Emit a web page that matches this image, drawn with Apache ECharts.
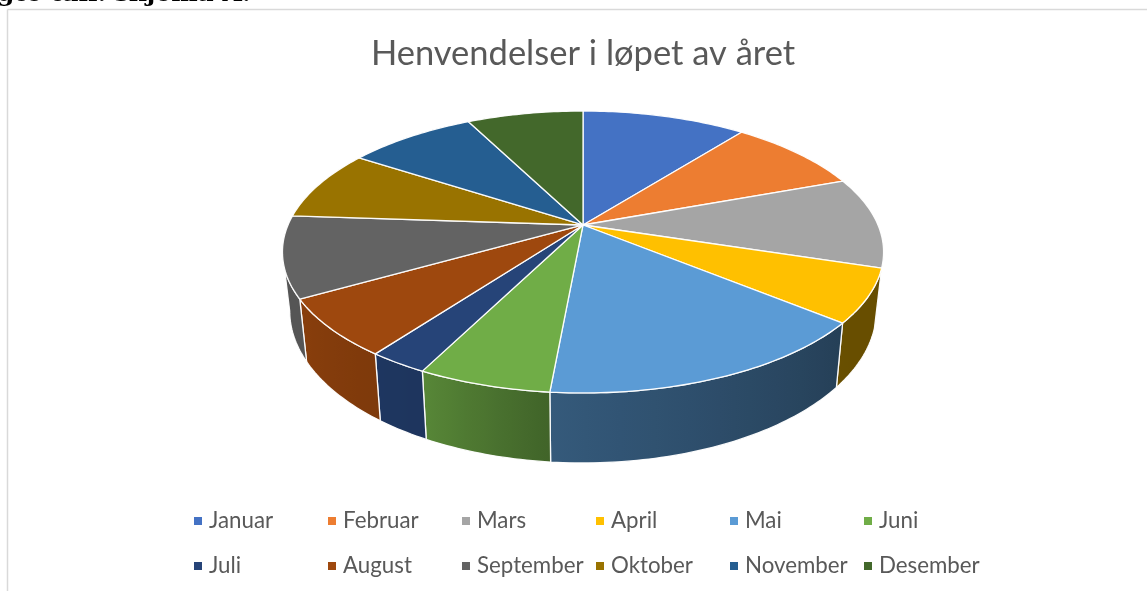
<!DOCTYPE html>
<html><head><meta charset="utf-8">
<script src="https://cdn.jsdelivr.net/npm/echarts@6/dist/echarts.min.js"></script>
<style>html,body{margin:0;padding:0;background:#fff;overflow:hidden}#c{width:1147px;height:591px;}</style>
</head><body><div id="c"></div>
<script>
// ---- data ----
const chartTitle = 'Henvendelser i løpet av året';
const months = ['Januar','Februar','Mars','April','Mai','Juni','Juli','August','September','Oktober','November','Desember'];
const values = [106, 88, 104, 61, 155, 60, 27, 66, 93, 81, 83, 75];
const colors = ['#4472C4','#ED7D31','#A5A5A5','#FFC000','#5B9BD5','#70AD47','#264478','#9E480E','#636363','#997300','#255E91','#43682B'];
const headerText = 'gte tall. skjema A.';

// ---- 3D pie geometry (projection of a tilted cylinder) ----
const total = values.reduce((a, b) => a + b, 0);
const startAngles = [];
(function () { let acc = 0; values.forEach(v => { startAngles.push(acc / total * 360); acc += v; }); })();

function geom(api) {
  const W = api.getWidth(), H = api.getHeight();
  return { cx: W * 0.5083, cy: H * 0.3807, rx: 295, ry: 135.8, p: 0.1915, h: 56.6, s: 0.976 };
}
function topPt(G, th) {
  const r = th * Math.PI / 180, u = Math.sin(r), v = Math.cos(r), w = 1 + G.p * v;
  return [G.cx + G.rx * u / w, G.cy - G.ry * v / w];
}
function botPt(G, th) {
  const r = th * Math.PI / 180, u = Math.sin(r), v = Math.cos(r), w = 1 + G.p * v;
  return [G.cx + G.s * G.rx * u / w, G.cy - G.ry * v / w + G.h / w];
}
const shadeStops = [[95, 0.40], [130, 0.41], [186, 0.58], [207, 0.78], [217, 0.80], [240, 0.86], [265, 0.86]];
function shadeFactor(th) {
  if (th <= shadeStops[0][0]) return shadeStops[0][1];
  for (let i = 1; i < shadeStops.length; i++) {
    if (th <= shadeStops[i][0]) {
      const [a0, f0] = shadeStops[i - 1], [a1, f1] = shadeStops[i];
      return f0 + (f1 - f0) * (th - a0) / (a1 - a0);
    }
  }
  return shadeStops[shadeStops.length - 1][1];
}
function shade(hex, f) {
  const n = parseInt(hex.slice(1), 16);
  const r = Math.round(((n >> 16) & 255) * f), g = Math.round(((n >> 8) & 255) * f), b = Math.round((n & 255) * f);
  return 'rgb(' + r + ',' + g + ',' + b + ')';
}
const SIDE_MIN = 101.04, SIDE_MAX = 258.96;

function makeRender(i) {
  return function (params, api) {
    const G = geom(api);
    const a0 = startAngles[i], a1 = a0 + api.value(0) / total * 360;
    const children = [];
    // top face
    const pts = [[G.cx, G.cy]];
    const n = Math.max(2, Math.ceil(a1 - a0));
    for (let k = 0; k <= n; k++) pts.push(topPt(G, a0 + (a1 - a0) * k / n));
    children.push({
      type: 'polygon', z2: 100 + i,
      shape: { points: pts },
      style: { fill: colors[i], stroke: 'rgba(255,255,255,0.95)', lineWidth: 1.3, lineJoin: 'round' }
    });
    // side face (front visible part)
    const s0 = Math.max(a0, SIDE_MIN), s1 = Math.min(a1, SIDE_MAX);
    if (s1 > s0) {
      const m = Math.max(2, Math.ceil(s1 - s0));
      const sp = [];
      for (let k = 0; k <= m; k++) sp.push(topPt(G, s0 + (s1 - s0) * k / m));
      for (let k = m; k >= 0; k--) sp.push(botPt(G, s0 + (s1 - s0) * k / m));
      let xmin = Infinity, xmax = -Infinity;
      sp.forEach(q => { xmin = Math.min(xmin, q[0]); xmax = Math.max(xmax, q[0]); });
      const stops = [];
      const ns = 10;
      for (let k = 0; k <= ns; k++) {
        const th = s0 + (s1 - s0) * k / ns;
        const x = (topPt(G, th)[0] + botPt(G, th)[0]) / 2;
        let off = (x - xmin) / Math.max(1, xmax - xmin);
        off = Math.min(1, Math.max(0, off));
        stops.push({ offset: off, color: shade(colors[i], shadeFactor(th)) });
      }
      stops.sort((a, b) => a.offset - b.offset);
      children.push({
        type: 'polygon', z2: 10 + i,
        shape: { points: sp },
        style: {
          fill: { type: 'linear', x: xmin, y: 0, x2: xmax, y2: 0, global: true, colorStops: stops },
          stroke: 'rgba(255,255,255,0.95)', lineWidth: 1.3, lineJoin: 'round'
        }
      });
    }
    return { type: 'group', children: children };
  };
}

const series = months.map((name, i) => ({
  type: 'custom',
  name: name,
  coordinateSystem: 'none',
  itemStyle: { color: colors[i] },
  renderItem: makeRender(i),
  data: [[values[i]]],
  animation: false
}));

const legendCommon = {
  orient: 'horizontal',
  left: 194,
  itemGap: 0,
  itemWidth: 12,
  itemHeight: 8,
  padding: 0,
  icon: 'path://M0,0h8v8h-8z',
  selectedMode: false,
  textStyle: { fontFamily: 'Lato', fontSize: 22.3, color: '#595959', width: 119, lineHeight: 24 }
};

const chart = echarts.init(document.getElementById('c'), null, { renderer: 'canvas' });
chart.setOption({
  backgroundColor: '#ffffff',
  animation: false,
  title: {
    text: chartTitle,
    left: 578,
    textAlign: 'center',
    top: 31,
    textStyle: { fontFamily: 'Lato', fontSize: 34.5, fontWeight: 'normal', color: '#595959' }
  },
  legend: [
    Object.assign({}, legendCommon, { top: 509, data: months.slice(0, 6) }),
    Object.assign({}, legendCommon, { top: 554, data: months.slice(6) })
  ],
  graphic: [
    { type: 'line', z: 0, shape: { x1: 7.5, y1: 9.5, x2: 1147, y2: 9.5 }, style: { stroke: '#d9d9d9', lineWidth: 1.5 } },
    { type: 'line', z: 0, shape: { x1: 7.5, y1: 9.5, x2: 7.5, y2: 591 }, style: { stroke: '#d9d9d9', lineWidth: 1.5 } },
    { type: 'text', x: -3, y: -18, style: { text: headerText, font: 'bold 25px "DejaVu Serif"', fill: '#000' } }
  ],
  series: series
});
</script>
</body></html>
